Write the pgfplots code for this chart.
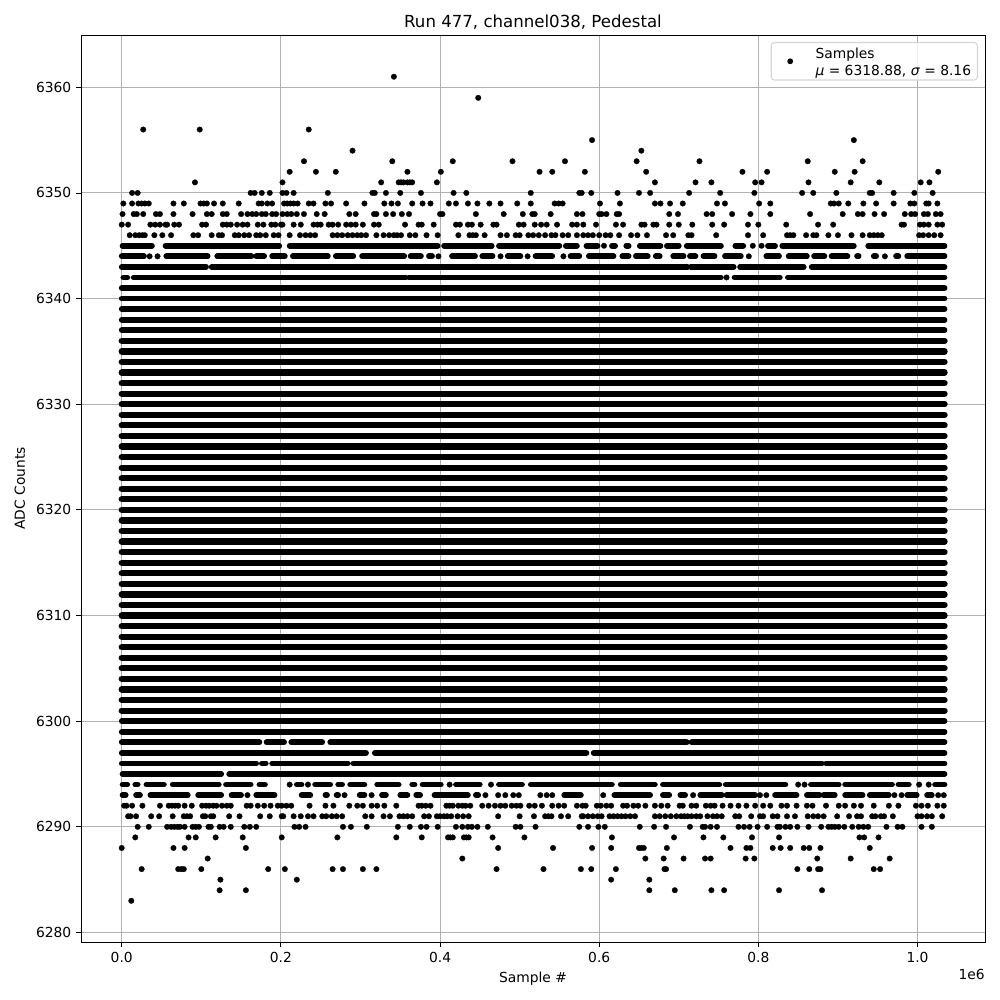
\documentclass[border=0pt]{standalone}
\usepackage{fontspec}
\setmainfont{DejaVu Sans}
\usepackage{pgfplots}
\pgfplotsset{compat=1.18}
\definecolor{gridgray}{HTML}{B0B0B0}
\definecolor{legframe}{HTML}{CCCCCC}
\begin{document}
\begin{tikzpicture}
\path[use as bounding box] (-0.81in,-0.58in) rectangle (9.19in,9.42in);
\begin{axis}[
  scale only axis,
  width=9.04in, height=9.07in,
  xmin=-51.2, xmax=1084.8,
  ymin=6279.1, ymax=6364.95,
  xtick={0,200,400,600,800,1000},
  xticklabels={0.0,0.2,0.4,0.6,0.8,1.0},
  ytick={6280,6290,6300,6310,6320,6330,6340,6350,6360},
  yticklabel style={/pgf/number format/.cd,1000 sep={},assume math mode=true},
  scaled ticks=false,
  clip mode=individual,
  grid=major,
  grid style={gridgray,line width=0.8bp},
  axis line style={line width=0.6bp},
  tick align=outside,
  tick pos=lower,
  major tick length=3.5bp,
  tick style={black,line width=0.6bp},
  unbounded coords=jump,
  title={\fontsize{12}{14}\selectfont Run 477, channel038, Pedestal},
  title style={yshift=-5.6pt},
  xlabel={Sample \#},
  ylabel={ADC Counts},
  xlabel style={yshift=0pt},
  ylabel style={yshift=1pt},
  legend cell align=left,
  legend style={
    at={(0.99226,0.99228)}, anchor=north east,
    draw=legframe, line width=0.8bp, rounded corners=2.5bp,
    fill=white, fill opacity=0.8, draw opacity=0.8, text opacity=1,
    inner xsep=2.6pt, inner ysep=1.2pt,
  },
]
% solid rows, x in thousands of samples
\addplot[forget plot, black, line width=4.5bp, line cap=round] coordinates {
(0,6301)(1034,6301) (nan,nan) (0,6302)(1034,6302) (nan,nan) (0,6303)(1034,6303) (nan,nan)
(0,6304)(1034,6304) (nan,nan) (0,6305)(1034,6305) (nan,nan) (0,6306)(1034,6306) (nan,nan)
(0,6307)(1034,6307) (nan,nan) (0,6308)(1034,6308) (nan,nan) (0,6309)(1034,6309) (nan,nan)
(0,6310)(1034,6310) (nan,nan) (0,6311)(1034,6311) (nan,nan) (0,6312)(1034,6312) (nan,nan)
(0,6313)(1034,6313) (nan,nan) (0,6314)(1034,6314) (nan,nan) (0,6315)(1034,6315) (nan,nan)
(0,6316)(1034,6316) (nan,nan) (0,6317)(1034,6317) (nan,nan) (0,6318)(1034,6318) (nan,nan)
(0,6319)(1034,6319) (nan,nan) (0,6320)(1034,6320) (nan,nan) (0,6321)(1034,6321) (nan,nan)
(0,6322)(1034,6322) (nan,nan) (0,6323)(1034,6323) (nan,nan) (0,6324)(1034,6324) (nan,nan)
(0,6325)(1034,6325) (nan,nan) (0,6326)(1034,6326) (nan,nan) (0,6327)(1034,6327) (nan,nan)
(0,6328)(1034,6328) (nan,nan) (0,6329)(1034,6329) (nan,nan) (0,6330)(1034,6330) (nan,nan)
(0,6331)(1034,6331) (nan,nan) (0,6332)(1034,6332) (nan,nan) (0,6333)(1034,6333) (nan,nan)
(0,6334)(1034,6334) (nan,nan) (0,6335)(1034,6335) (nan,nan) (0,6336)(1034,6336)
};
% rows that are nearly solid, with their gaps
\addplot[forget plot, black, line width=4.1bp, line cap=round] coordinates {
(0,6337)(1034,6337) (nan,nan) (0,6338)(1034,6338) (nan,nan) (0,6339)(1034,6339) (nan,nan)
(0,6340)(1034,6340) (nan,nan) (0,6341)(1034,6341) (nan,nan)
(2,6342)(7,6342) (nan,nan) (15,6342)(357,6342) (nan,nan) (361,6342)(753,6342) (nan,nan) (770,6342)(827,6342) (nan,nan) (837,6342)(1034,6342) (nan,nan)
(0,6343)(106,6343) (nan,nan) (113,6343)(711,6343) (nan,nan) (715,6343)(769,6343) (nan,nan) (777,6343)(857,6343) (nan,nan) (867,6343)(1034,6343) (nan,nan)
(0,6344)(28,6344) (nan,nan) (56,6344)(108,6344) (nan,nan) (120,6344)(163,6344) (nan,nan) (169,6344)(179,6344) (nan,nan) (189,6344)(205,6344) (nan,nan) (215,6344)(259,6344) (nan,nan) (269,6344)(291,6344) (nan,nan) (302,6344)(355,6344) (nan,nan) (363,6344)(376,6344) (nan,nan) (386,6344)(390,6344) (nan,nan) (415,6344)(444,6344) (nan,nan) (453,6344)(466,6344) (nan,nan) (485,6344)(501,6344) (nan,nan) (520,6344)(541,6344) (nan,nan) (564,6344)(575,6344) (nan,nan) (587,6344)(618,6344) (nan,nan) (629,6344)(637,6344) (nan,nan) (646,6344)(661,6344) (nan,nan) (671,6344)(676,6344) (nan,nan) (693,6344)(706,6344) (nan,nan) (714,6344)(721,6344) (nan,nan) (731,6344)(745,6344) (nan,nan) (758,6344)(778,6344) (nan,nan) (810,6344)(826,6344) (nan,nan) (838,6344)(861,6344) (nan,nan) (870,6344)(883,6344) (nan,nan) (892,6344)(912,6344) (nan,nan) (924,6344)(926,6344) (nan,nan) (945,6344)(948,6344) (nan,nan) (973,6344)(976,6344) (nan,nan) (987,6344)(1034,6344) (nan,nan)
(1,6345)(38,6345) (nan,nan) (55,6345)(198,6345) (nan,nan) (211,6345)(397,6345) (nan,nan) (405,6345)(465,6345) (nan,nan) (474,6345)(550,6345) (nan,nan) (558,6345)(572,6345) (nan,nan) (584,6345)(598,6345) (nan,nan) (616,6345)(620,6345) (nan,nan) (634,6345)(637,6345) (nan,nan) (651,6345)(677,6345) (nan,nan) (685,6345)(700,6345) (nan,nan) (710,6345)(753,6345) (nan,nan) (771,6345)(781,6345) (nan,nan) (812,6345)(821,6345) (nan,nan) (830,6345)(920,6345) (nan,nan) (938,6345)(1034,6345) (nan,nan)
(0,6300)(1034,6300) (nan,nan) (0,6299)(1034,6299) (nan,nan)
(0,6298)(173,6298) (nan,nan) (182,6298)(204,6298) (nan,nan) (213,6298)(252,6298) (nan,nan) (262,6298)(710,6298) (nan,nan) (716,6298)(1034,6298) (nan,nan)
(0,6297)(307,6297) (nan,nan) (318,6297)(584,6297) (nan,nan) (593,6297)(1034,6297) (nan,nan)
(0,6296)(169,6296) (nan,nan) (176,6296)(181,6296) (nan,nan) (189,6296)(284,6296) (nan,nan) (291,6296)(880,6296) (nan,nan) (885,6296)(1034,6296) (nan,nan)
(1,6295)(125,6295) (nan,nan) (135,6295)(1034,6295) (nan,nan)
(1,6294)(7,6294) (nan,nan) (17,6294)(20,6294) (nan,nan) (31,6294)(53,6294) (nan,nan) (64,6294)(122,6294) (nan,nan) (131,6294)(162,6294) (nan,nan) (173,6294)(180,6294) (nan,nan) (220,6294)(226,6294) (nan,nan) (243,6294)(262,6294) (nan,nan) (272,6294)(277,6294) (nan,nan) (287,6294)(305,6294) (nan,nan) (321,6294)(348,6294) (nan,nan) (365,6294)(368,6294) (nan,nan) (378,6294)(401,6294) (nan,nan) (420,6294)(450,6294) (nan,nan) (474,6294)(503,6294) (nan,nan) (514,6294)(616,6294) (nan,nan) (627,6294)(670,6294) (nan,nan) (680,6294)(751,6294) (nan,nan) (759,6294)(834,6294) (nan,nan) (866,6294)(901,6294) (nan,nan) (909,6294)(968,6294) (nan,nan) (976,6294)(989,6294) (nan,nan) (1022,6294)(1034,6294) (nan,nan)
(1,6293)(5,6293) (nan,nan) (18,6293)(23,6293) (nan,nan) (36,6293)(83,6293) (nan,nan) (96,6293)(125,6293) (nan,nan) (138,6293)(150,6293) (nan,nan) (169,6293)(192,6293) (nan,nan) (226,6293)(237,6293) (nan,nan) (256,6293)(258,6293) (nan,nan) (270,6293)(272,6293) (nan,nan) (299,6293)(305,6293) (nan,nan) (327,6293)(332,6293) (nan,nan) (350,6293)(359,6293) (nan,nan) (370,6293)(375,6293) (nan,nan) (393,6293)(435,6293) (nan,nan) (445,6293)(448,6293) (nan,nan) (556,6293)(577,6293) (nan,nan) (619,6293)(664,6293) (nan,nan) (680,6293)(688,6293) (nan,nan) (702,6293)(708,6293) (nan,nan) (727,6293)(754,6293) (nan,nan) (760,6293)(796,6293) (nan,nan) (821,6293)(848,6293) (nan,nan) (861,6293)(877,6293) (nan,nan) (882,6293)(896,6293) (nan,nan) (909,6293)(931,6293) (nan,nan) (940,6293)(964,6293) (nan,nan) (987,6293)(999,6293) (nan,nan) (1012,6293)(1018,6293)
};
\addplot[only marks, mark=*, mark size=2bp, black, mark options={line width=0.2bp},
  legend image code/.code={\fill[black,draw=none,fill opacity=1] (0.154in,0) circle[radius=2.1bp]; \path[draw=none,fill=none] (0,0) -- (0.38in,0);}] coordinates {
(342,6361) (448,6359)
(27,6356) (98,6356) (235,6356)
(591,6355) (920,6355)
(290,6354) (653,6354)
(229,6353) (340,6353) (416,6353) (491,6353) (557,6353) (647,6353) (726,6353) (862,6353) (931,6353)
(211,6352) (244,6352) (269,6352) (359,6352) (401,6352) (525,6352) (541,6352) (582,6352) (659,6352) (780,6352) (811,6352) (896,6352) (921,6352) (1026,6352)
(92,6351) (202,6351) (326,6351) (348,6351) (351,6351) (354,6351) (359,6351) (362,6351) (365,6351) (396,6351) (670,6351) (721,6351) (741,6351) (796,6351) (804,6351) (863,6351) (916,6351) (952,6351) (1004,6351) (1015,6351)
(13,6350) (20,6350) (162,6350) (167,6350) (176,6350) (186,6350) (202,6350) (207,6350) (216,6350) (259,6350) (315,6350) (318,6350) (332,6350) (350,6350) (376,6350) (417,6350) (433,6350) (514,6350) (575,6350) (578,6350) (590,6350) (623,6350) (650,6350) (664,6350) (713,6350) (752,6350) (795,6350) (855,6350) (869,6350) (898,6350) (940,6350) (943,6350) (970,6350) (996,6350) (1019,6350)
(2,6349) (13,6349) (21,6349) (25,6349) (29,6349) (34,6349) (65,6349) (78,6349) (99,6349) (103,6349) (107,6349) (116,6349) (127,6349) (147,6349) (172,6349) (176,6349) (183,6349) (189,6349) (204,6349) (208,6349) (212,6349) (216,6349) (221,6349) (235,6349) (241,6349) (256,6349) (263,6349) (282,6349) (305,6349) (330,6349) (339,6349) (347,6349) (365,6349) (378,6349) (388,6349) (411,6349) (420,6349) (435,6349) (447,6349) (462,6349) (476,6349) (497,6349) (514,6349) (544,6349) (549,6349) (554,6349) (601,6349) (626,6349) (670,6349) (677,6349) (689,6349) (705,6349) (748,6349) (758,6349) (801,6349) (815,6349) (891,6349) (895,6349) (901,6349) (913,6349) (932,6349) (948,6349) (970,6349) (991,6349) (996,6349) (1011,6349) (1014,6349) (1025,6349)
(1,6348) (15,6348) (19,6348) (27,6348) (43,6348) (48,6348) (65,6348) (89,6348) (107,6348) (113,6348) (127,6348) (132,6348) (150,6348) (158,6348) (164,6348) (169,6348) (176,6348) (181,6348) (189,6348) (194,6348) (202,6348) (208,6348) (213,6348) (220,6348) (229,6348) (245,6348) (255,6348) (286,6348) (294,6348) (317,6348) (320,6348) (332,6348) (341,6348) (352,6348) (361,6348) (400,6348) (403,6348) (445,6348) (480,6348) (504,6348) (516,6348) (519,6348) (539,6348) (572,6348) (579,6348) (600,6348) (603,6348) (609,6348) (622,6348) (625,6348) (688,6348) (699,6348) (735,6348) (742,6348) (767,6348) (790,6348) (815,6348) (865,6348) (906,6348) (925,6348) (931,6348) (946,6348) (958,6348) (984,6348) (992,6348) (997,6348) (1008,6348) (1013,6348) (1023,6348) (1029,6348)
(0,6347) (8,6347) (36,6347) (42,6347) (48,6347) (55,6347) (57,6347) (66,6347) (72,6347) (101,6347) (106,6347) (127,6347) (132,6347) (137,6347) (145,6347) (152,6347) (158,6347) (171,6347) (178,6347) (188,6347) (193,6347) (200,6347) (202,6347) (216,6347) (225,6347) (241,6347) (246,6347) (250,6347) (260,6347) (265,6347) (272,6347) (282,6347) (288,6347) (294,6347) (303,6347) (317,6347) (323,6347) (356,6347) (373,6347) (377,6347) (392,6347) (420,6347) (425,6347) (435,6347) (440,6347) (451,6347) (467,6347) (471,6347) (499,6347) (505,6347) (519,6347) (527,6347) (534,6347) (547,6347) (566,6347) (572,6347) (580,6347) (596,6347) (621,6347) (630,6347) (653,6347) (657,6347) (668,6347) (672,6347) (688,6347) (700,6347) (717,6347) (742,6347) (757,6347) (787,6347) (800,6347) (835,6347) (875,6347) (894,6347) (980,6347) (983,6347) (1003,6347) (1008,6347) (1014,6347) (1025,6347) (1031,6347)
(10,6346) (17,6346) (22,6346) (26,6346) (29,6346) (41,6346) (51,6346) (62,6346) (90,6346) (96,6346) (113,6346) (122,6346) (126,6346) (142,6346) (147,6346) (154,6346) (160,6346) (169,6346) (174,6346) (181,6346) (191,6346) (197,6346) (211,6346) (224,6346) (231,6346) (237,6346) (243,6346) (265,6346) (271,6346) (277,6346) (284,6346) (290,6346) (296,6346) (301,6346) (307,6346) (320,6346) (329,6346) (336,6346) (342,6346) (346,6346) (351,6346) (362,6346) (369,6346) (383,6346) (397,6346) (423,6346) (437,6346) (441,6346) (445,6346) (456,6346) (476,6346) (484,6346) (495,6346) (500,6346) (511,6346) (517,6346) (524,6346) (532,6346) (540,6346) (545,6346) (554,6346) (561,6346) (572,6346) (580,6346) (586,6346) (592,6346) (600,6346) (608,6346) (614,6346) (625,6346) (640,6346) (648,6346) (660,6346) (684,6346) (693,6346) (712,6346) (716,6346) (747,6346) (787,6346) (806,6346) (836,6346) (840,6346) (844,6346) (860,6346) (869,6346) (873,6346) (888,6346) (900,6346) (917,6346) (931,6346) (940,6346) (945,6346) (950,6346) (955,6346) (1002,6346) (1007,6346) (1014,6346) (1021,6346) (1029,6346)
(606,6345) (793,6345) (804,6345)
(35,6344) (45,6344) (398,6344) (476,6344) (510,6344) (555,6344) (788,6344) (959,6344)
(760,6342)
(211,6294) (234,6294) (412,6294) (464,6294) (850,6294) (858,6294) (1002,6294) (1014,6294)
(158,6293) (280,6293) (314,6293) (457,6293) (473,6293) (482,6293) (492,6293) (499,6293) (526,6293) (534,6293) (541,6293) (605,6293) (718,6293) (802,6293) (810,6293) (971,6293) (980,6293) (1026,6293) (1033,6293)
(3,6292) (6,6292) (13,6292) (26,6292) (48,6292) (59,6292) (63,6292) (67,6292) (71,6292) (79,6292) (88,6292) (101,6292) (106,6292) (110,6292) (115,6292) (119,6292) (126,6292) (132,6292) (137,6292) (157,6292) (162,6292) (171,6292) (179,6292) (187,6292) (196,6292) (201,6292) (207,6292) (213,6292) (236,6292) (256,6292) (266,6292) (286,6292) (296,6292) (303,6292) (314,6292) (321,6292) (330,6292) (345,6292) (373,6292) (377,6292) (382,6292) (388,6292) (408,6292) (412,6292) (416,6292) (423,6292) (428,6292) (432,6292) (438,6292) (453,6292) (461,6292) (469,6292) (476,6292) (482,6292) (490,6292) (496,6292) (501,6292) (512,6292) (519,6292) (528,6292) (541,6292) (549,6292) (556,6292) (572,6292) (579,6292) (583,6292) (597,6292) (602,6292) (609,6292) (615,6292) (630,6292) (635,6292) (643,6292) (649,6292) (658,6292) (670,6292) (678,6292) (686,6292) (701,6292) (705,6292) (716,6292) (722,6292) (734,6292) (740,6292) (745,6292) (755,6292) (765,6292) (775,6292) (785,6292) (796,6292) (806,6292) (815,6292) (829,6292) (836,6292) (848,6292) (861,6292) (868,6292) (885,6292) (901,6292) (909,6292) (920,6292) (929,6292) (945,6292) (964,6292) (976,6292) (998,6292) (1005,6292) (1013,6292) (1025,6292) (1033,6292)
(8,6291) (11,6291) (18,6291) (37,6291) (47,6291) (64,6291) (78,6291) (82,6291) (86,6291) (102,6291) (105,6291) (112,6291) (115,6291) (135,6291) (148,6291) (174,6291) (186,6291) (201,6291) (203,6291) (216,6291) (225,6291) (234,6291) (241,6291) (252,6291) (257,6291) (264,6291) (270,6291) (277,6291) (306,6291) (314,6291) (329,6291) (337,6291) (349,6291) (354,6291) (359,6291) (365,6291) (380,6291) (386,6291) (396,6291) (400,6291) (405,6291) (409,6291) (414,6291) (422,6291) (429,6291) (436,6291) (473,6291) (500,6291) (518,6291) (532,6291) (536,6291) (540,6291) (552,6291) (561,6291) (578,6291) (580,6291) (586,6291) (592,6291) (598,6291) (603,6291) (613,6291) (618,6291) (623,6291) (628,6291) (633,6291) (639,6291) (645,6291) (670,6291) (676,6291) (683,6291) (690,6291) (697,6291) (703,6291) (707,6291) (711,6291) (716,6291) (722,6291) (727,6291) (736,6291) (743,6291) (748,6291) (754,6291) (771,6291) (776,6291) (791,6291) (802,6291) (806,6291) (818,6291) (824,6291) (836,6291) (846,6291) (862,6291) (869,6291) (875,6291) (882,6291) (899,6291) (914,6291) (924,6291) (929,6291) (943,6291) (947,6291) (954,6291) (958,6291) (969,6291) (1000,6291) (1005,6291) (1012,6291) (1018,6291) (1031,6291)
(20,6290) (34,6290) (57,6290) (62,6290) (66,6290) (70,6290) (73,6290) (79,6290) (89,6290) (93,6290) (97,6290) (109,6290) (112,6290) (123,6290) (128,6290) (137,6290) (154,6290) (161,6290) (169,6290) (217,6290) (223,6290) (231,6290) (278,6290) (288,6290) (308,6290) (347,6290) (362,6290) (376,6290) (383,6290) (397,6290) (420,6290) (428,6290) (435,6290) (440,6290) (447,6290) (460,6290) (495,6290) (501,6290) (520,6290) (575,6290) (586,6290) (599,6290) (607,6290) (651,6290) (669,6290) (684,6290) (714,6290) (730,6290) (733,6290) (740,6290) (748,6290) (775,6290) (782,6290) (789,6290) (799,6290) (811,6290) (824,6290) (827,6290) (834,6290) (840,6290) (849,6290) (863,6290) (879,6290) (888,6290) (892,6290) (896,6290) (901,6290) (908,6290) (918,6290) (926,6290) (932,6290) (938,6290) (961,6290) (975,6290) (981,6290) (1005,6290) (1018,6290)
(17,6289) (84,6289) (93,6289) (118,6289) (152,6289) (201,6289) (271,6289) (345,6289) (377,6289) (410,6289) (413,6289) (416,6289) (430,6289) (433,6289) (436,6289) (466,6289) (506,6289) (616,6289) (694,6289) (731,6289) (756,6289) (792,6289) (826,6289) (927,6289) (933,6289) (951,6289)
(0,6288) (65,6288) (79,6288) (156,6288) (473,6288) (542,6288) (591,6288) (615,6288) (650,6288) (653,6288) (656,6288) (685,6288) (765,6288) (785,6288) (790,6288) (818,6288) (828,6288) (840,6288) (857,6288) (864,6288) (878,6288) (940,6288)
(108,6287) (428,6287) (658,6287) (681,6287) (706,6287) (733,6287) (740,6287) (784,6287) (795,6287) (874,6287) (916,6287) (965,6287)
(25,6286) (71,6286) (75,6286) (78,6286) (100,6286) (184,6286) (205,6286) (265,6286) (278,6286) (303,6286) (320,6286) (471,6286) (530,6286) (577,6286) (590,6286) (621,6286) (682,6286) (684,6286) (849,6286) (864,6286) (875,6286) (878,6286) (945,6286) (953,6286)
(124,6285) (220,6285) (615,6285) (663,6285)
(123,6284) (156,6284) (663,6284) (695,6284) (741,6284) (757,6284) (826,6284) (880,6284)
(12,6283)
};
\addlegendentry{\begin{tabular}{@{}l@{}}Samples\\\textit{μ} = 6318.88, \textit{σ} = 8.16\\[9.4pt]\end{tabular}}
\node[anchor=north east, inner sep=0pt] at (rel axis cs:1,0) [yshift=-0.27in] {1e6};
\end{axis}
\end{tikzpicture}
\end{document}
